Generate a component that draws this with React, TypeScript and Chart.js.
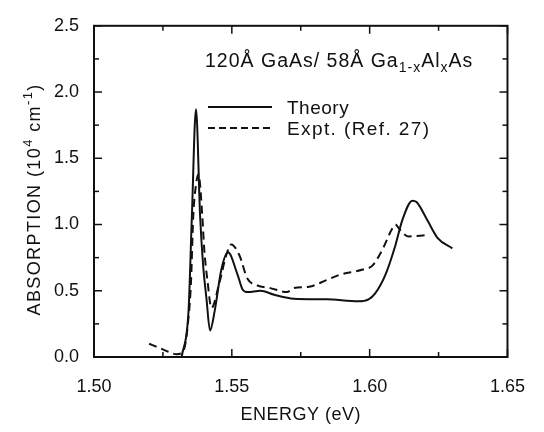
import React, { useEffect, useRef } from "react";
import { Chart, registerables } from "chart.js";

Chart.register(...registerables);

// ---- data ----
const energyTheory = [1.5318, 1.5343, 1.5355, 1.5370, 1.5385, 1.5396, 1.5408, 1.5421, 1.5438, 1.5462, 1.5486, 1.5521, 1.5539, 1.5557, 1.5604, 1.5654, 1.5725, 1.5843, 1.5960, 1.5996, 1.6020, 1.6057, 1.6093, 1.6118, 1.6155, 1.6170, 1.6210, 1.6246, 1.6300];
const absTheory = [0.0, 0.35, 1.06, 1.87, 1.06, 0.69, 0.44, 0.20, 0.35, 0.66, 0.79, 0.62, 0.51, 0.49, 0.50, 0.47, 0.44, 0.435, 0.42, 0.435, 0.48, 0.62, 0.84, 1.03, 1.18, 1.17, 1.03, 0.90, 0.82];

const energyExpt = [1.5200, 1.5236, 1.5270, 1.5300, 1.5325, 1.5343, 1.5352, 1.5360, 1.5370, 1.5379, 1.5393, 1.5400, 1.5412, 1.5426, 1.5456, 1.5480, 1.5498, 1.5527, 1.5557, 1.5593, 1.5640, 1.5700, 1.5725, 1.5780, 1.5843, 1.5890, 1.5975, 1.6010, 1.6046, 1.6082, 1.6093, 1.6110, 1.6140, 1.6207];
const absExpt = [0.10, 0.07, 0.04, 0.02, 0.05, 0.30, 0.57, 1.06, 1.30, 1.38, 1.06, 0.81, 0.57, 0.37, 0.57, 0.77, 0.85, 0.77, 0.59, 0.54, 0.52, 0.49, 0.52, 0.53, 0.58, 0.62, 0.66, 0.69, 0.81, 0.97, 1.00, 0.96, 0.91, 0.92];

const seriesLabels = ["Theory", "Expt. (Ref. 27)"];
const xMajorTicks = [1.5, 1.55, 1.6, 1.65];
const xMinorTicks = [1.525, 1.575, 1.625];
const yMajorTicks = [0, 0.5, 1.0, 1.5, 2.0, 2.5];
const yMinorTicks = [0.25, 0.75, 1.25, 1.75, 2.25];
const xTitle = "ENERGY (eV)";

const FONT = "'Liberation Sans', Arial, Helvetica, sans-serif";
const INK = "#111";

type Seg = { t: string; size: number; dy: number };

function drawSegs(ctx: CanvasRenderingContext2D, segs: Seg[], x: number, y: number, align: "left" | "center", spacing: number) {
  ctx.save();
  (ctx as any).letterSpacing = spacing + "px";
  ctx.textBaseline = "alphabetic";
  ctx.textAlign = "left";
  const widths = segs.map((s) => {
    ctx.font = `${s.size}px ${FONT}`;
    return ctx.measureText(s.t).width;
  });
  const total = widths.reduce((a, b) => a + b, 0);
  let cx = align === "center" ? x - total / 2 : x;
  segs.forEach((s, i) => {
    ctx.font = `${s.size}px ${FONT}`;
    ctx.fillText(s.t, cx, y + s.dy);
    cx += widths[i];
  });
  ctx.restore();
}

const decorPlugin = {
  id: "decor",
  afterDraw(chart: any) {
    const ctx: CanvasRenderingContext2D = chart.ctx;
    const { left, right, top, bottom } = chart.chartArea;
    const xs = chart.scales.x;
    const ys = chart.scales.y;
    ctx.save();
    ctx.strokeStyle = INK;
    ctx.fillStyle = INK;
    // frame
    ctx.lineWidth = 2;
    ctx.strokeRect(left, top, right - left, bottom - top);
    // inward ticks
    ctx.lineWidth = 1.5;
    const tick = (x1: number, y1: number, x2: number, y2: number) => {
      ctx.beginPath();
      ctx.moveTo(x1, y1);
      ctx.lineTo(x2, y2);
      ctx.stroke();
    };
    xMajorTicks.forEach((v) => {
      const p = xs.getPixelForValue(v);
      tick(p, bottom, p, bottom - 8);
      tick(p, top, p, top + 8);
    });
    xMinorTicks.forEach((v) => {
      const p = xs.getPixelForValue(v);
      tick(p, bottom, p, bottom - 5);
      tick(p, top, p, top + 5);
    });
    yMajorTicks.forEach((v) => {
      const p = ys.getPixelForValue(v);
      tick(left, p, left + 8, p);
      tick(right, p, right - 8, p);
    });
    yMinorTicks.forEach((v) => {
      const p = ys.getPixelForValue(v);
      tick(left, p, left + 5, p);
      tick(right, p, right - 5, p);
    });

    // x title
    drawSegs(ctx, [{ t: xTitle, size: 18, dy: 0 }], (left + right) / 2, 420, "center", 0.5);

    // y title (rotated, with superscripts)
    ctx.save();
    ctx.translate(40, (top + bottom) / 2 + 8);
    ctx.rotate(-Math.PI / 2);
    drawSegs(
      ctx,
      [
        { t: "ABSORPTION (10", size: 18, dy: 0 },
        { t: "4", size: 13, dy: -8 },
        { t: " cm", size: 18, dy: 0 },
        { t: "-1", size: 13, dy: -8 },
        { t: ")", size: 18, dy: 0 },
      ],
      0,
      0,
      "center",
      1.4
    );
    ctx.restore();

    // annotation
    drawSegs(
      ctx,
      [
        { t: "120Å GaAs/ 58Å Ga", size: 19.5, dy: 0 },
        { t: "1-x", size: 14, dy: 5 },
        { t: "Al", size: 19.5, dy: 0 },
        { t: "x", size: 14, dy: 5 },
        { t: "As", size: 19.5, dy: 0 },
      ],
      205,
      67,
      "left",
      1.0
    );

    // legend
    const lx1 = 208, lx2 = 272;
    const ly = [107, 128];
    ctx.lineWidth = 2;
    ctx.setLineDash([]);
    tick(lx1, ly[0], lx2, ly[0]);
    ctx.setLineDash([7, 4]);
    tick(lx1, ly[1], lx2, ly[1]);
    ctx.setLineDash([]);
    drawSegs(ctx, [{ t: seriesLabels[0], size: 19, dy: 0 }], 287, ly[0] + 7, "left", 0.5);
    drawSegs(ctx, [{ t: seriesLabels[1], size: 19, dy: 0 }], 287, ly[1] + 7, "left", 1.4);
    ctx.restore();
  },
};

export default function App() {
  const ref = useRef<HTMLCanvasElement | null>(null);
  useEffect(() => {
    if (!ref.current) return;
    const chart = new Chart(ref.current, {
      type: "line",
      data: {
        datasets: [
          {
            label: seriesLabels[0],
            data: energyTheory.map((x, i) => ({ x, y: absTheory[i] })),
            borderColor: INK,
            borderWidth: 2,
            pointRadius: 0,
            cubicInterpolationMode: "monotone",
            fill: false,
          },
          {
            label: seriesLabels[1],
            data: energyExpt.map((x, i) => ({ x, y: absExpt[i] })),
            borderColor: INK,
            borderWidth: 2,
            borderDash: [8, 5],
            pointRadius: 0,
            cubicInterpolationMode: "monotone",
            fill: false,
          },
        ],
      },
      options: {
        animation: false,
        responsive: false,
        maintainAspectRatio: false,
        layout: { padding: { left: 0, right: 30, top: 18, bottom: 0 } },
        plugins: { legend: { display: false }, tooltip: { enabled: false } },
        scales: {
          x: {
            type: "linear",
            min: 1.5,
            max: 1.65,
            afterBuildTicks: (axis: any) => {
              axis.ticks = xMajorTicks.map((v) => ({ value: v }));
            },
            afterFit: (axis: any) => {
              axis.height = 75;
            },
            grid: { display: false, drawTicks: false },
            border: { display: false },
            ticks: {
              padding: 19,
              color: INK,
              font: { family: FONT, size: 18 },
              maxRotation: 0,
              autoSkip: false,
              callback: (v: any) => Number(v).toFixed(2),
            },
          },
          y: {
            type: "linear",
            min: 0,
            max: 2.5,
            afterBuildTicks: (axis: any) => {
              axis.ticks = yMajorTicks.map((v) => ({ value: v }));
            },
            afterFit: (axis: any) => {
              axis.width = 94;
            },
            grid: { display: false, drawTicks: false },
            border: { display: false },
            ticks: {
              padding: 15,
              color: INK,
              font: { family: FONT, size: 18 },
              autoSkip: false,
              callback: (v: any) => Number(v).toFixed(1),
            },
          },
        },
      },
      plugins: [decorPlugin],
    } as any);
    return () => chart.destroy();
  }, []);
  return (
    <div style={{ position: "fixed", left: 0, top: 0, width: 544, height: 432, background: "#fff" }}>
      <canvas ref={ref} width={544} height={432} style={{ display: "block", width: 544, height: 432 }} />
    </div>
  );
}
